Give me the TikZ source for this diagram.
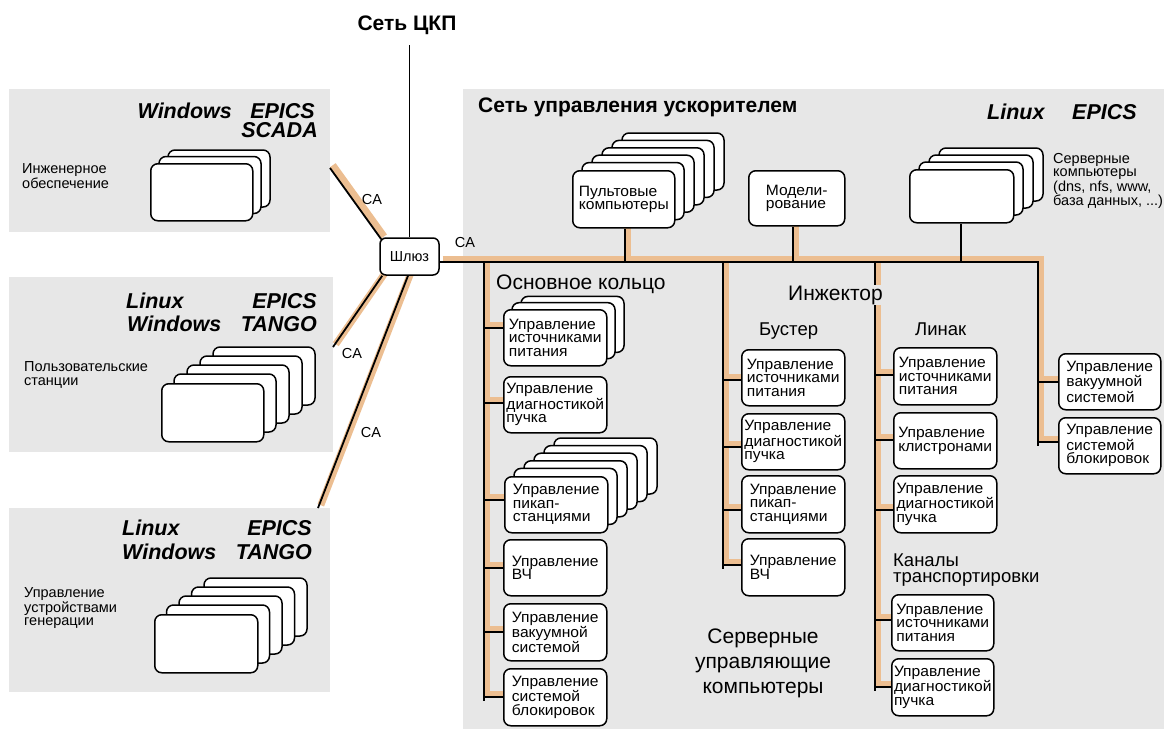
\documentclass[tikz,border=0pt]{standalone}
\usepackage{fontspec}
\setmainfont{Liberation Sans}
\newfontfamily\bxfam[FakeStretch=1.04]{Liberation Sans}
\usetikzlibrary{calc}
\definecolor{panelgray}{RGB}{231,231,231}
\definecolor{halocol}{RGB}{236,190,145}
\pgfdeclarelayer{panels}
\pgfdeclarelayer{halos}
\pgfsetlayers{panels,halos,main}
\newcommand\bxfont{\bxfam\fontsize{15}{13.5}\selectfont}
\newcommand\sidefont{\fontsize{14.5}{13.5}\selectfont}
\newcommand\ttlfont{\fontsize{21.5}{23}\selectfont\bfseries\itshape}
\newcommand\headfont{\fontsize{21}{25}\selectfont}
\newcommand\subfont{\fontsize{18.5}{16.5}\selectfont}
\newcommand\netline[1]{\begin{pgfonlayer}{halos}\begin{scope}[transform canvas={shift={(2.8pt,2.8pt)}}]\draw[halo] #1;\end{scope}\end{pgfonlayer}\draw[wire] #1;}
\newcommand\stk[9]{%
  \foreach \k in {#6,...,1}{\draw[boxline] ({#2+\k*#7},{#3-\k*#8}) rectangle ++(#4,#5);}
  \node[bx,minimum width=#4pt,minimum height=#5pt] (#1) at (#2,#3) {#9};}
\newcommand\bxn[6]{\node[bx,minimum width=#4pt,minimum height=#5pt] (#1) at (#2,#3) {#6};}
\begin{document}
\begin{tikzpicture}[x=1pt,y=-1pt,
  wire/.style={draw=black,line width=1.8pt},
  halo/.style={draw=halocol,line width=7pt},
  boxline/.style={draw=black,line width=1.5pt,fill=white,rounded corners=7pt},
  bx/.style={boxline,align=left,font=\bxfont,inner sep=0pt,anchor=north west},
  ttl/.style={font=\ttlfont,inner sep=0pt},
  side/.style={font=\sidefont,align=left,inner sep=0pt,anchor=north west},
  lbl/.style={font=\sidefont,inner sep=0pt},
  head/.style={font=\headfont,inner sep=0pt},
  sub/.style={font=\subfont,inner sep=0pt}]
\useasboundingbox (0,0) rectangle (1164,731);
% panels
\begin{pgfonlayer}{panels}
\fill[panelgray] (9,89) rectangle (330,232);
\fill[panelgray] (9,277) rectangle (333,452);
\fill[panelgray] (9,508) rectangle (330,692);
\fill[panelgray] (463,89) rectangle (1164,729);
\end{pgfonlayer}
% headings
\node[head,font=\headfont\bfseries] (ckp) at (407,25) {Сеть ЦКП};
\node[head,font=\headfont\bfseries,anchor=base west] (acc) at (478,112.5) {Сеть управления ускорителем};
% panel 1
\node[ttl,anchor=base east] (w1) at (232,118) {Windows};
\node[ttl,anchor=base east] (e1) at (315,118) {EPICS};
\node[ttl,anchor=base east] (sc1) at (318,137.5) {SCADA};
\node[side] (t1) at (22,163.5) {Инженерное\\обеспечение};
\stk{s1}{150}{163}{102}{57}{2}{9}{6.5}{}
% panel 2
\node[ttl,anchor=base west] (lx2) at (126,308) {Linux};
\node[ttl,anchor=base west] (w2) at (127,331) {Windows};
\node[ttl,anchor=base east] (e2) at (317,308) {EPICS};
\node[ttl,anchor=base east] (tg2) at (317,331) {TANGO};
\node[side] (t2) at (24,361.5) {Пользовательские\\станции};
\stk{s2}{161}{383}{102}{58}{4}{13}{9}{}
% panel 3
\node[ttl,anchor=base west] (lx3) at (122,535) {Linux};
\node[ttl,anchor=base west] (w3) at (122,559) {Windows};
\node[ttl,anchor=base east] (e3) at (312,535) {EPICS};
\node[ttl,anchor=base east] (tg3) at (312,559) {TANGO};
\node[side] (t3) at (24,587.5) {Управление\\устройствами\\генерации};
\stk{s3}{154}{614}{103}{58}{4}{12.5}{9}{}
% right panel header
\node[ttl,anchor=base west] (lx4) at (987,119) {Linux};
\node[ttl,anchor=base west] (e4) at (1072,119) {EPICS};
% top boxes
\stk{pult}{572}{170}{102}{57}{5}{10}{7.4}{Пультовые\\компьютеры}
\bxn{model}{748}{170}{96}{55}{Модели-\\рование}
\stk{serv}{909}{169}{104}{53}{3}{10}{7}{}
\node[side,font=\fontsize{14.5}{12.8}\selectfont] (servt) at (1053,153.5) {Серверные\\компьютеры\\(dns, nfs, www,\\база данных, ...)};
% gateway
\node[boxline,rounded corners=6pt,minimum width=59pt,minimum height=37pt,font=\sidefont,inner sep=0pt] (gw) at (409.5,256.5) {Шлюз};
% main ring
\node[head,anchor=base west] (ring) at (496,289) {Основное кольцо};
\stk{r1}{503}{309}{103}{56}{2}{9}{6.3}{Управление\\источниками\\питания}
\bxn{r2}{503}{376}{103}{56}{Управление\\диагностикой\\пучка}
\stk{r3}{504}{476}{103}{56}{5}{10}{7.6}{Управление\\пикап-\\станциями}
\bxn{r4}{503}{539}{103}{56}{Управление\\ВЧ}
\bxn{r5}{503}{603}{103}{57}{Управление\\вакуумной\\системой}
\bxn{r6}{503}{668}{103}{57}{Управление\\системой\\блокировок}
% booster
\node[sub,anchor=base west] (bust) at (759,335) {Бустер};
\bxn{b1}{741}{349}{103}{56}{Управление\\источниками\\питания}
\bxn{b2}{741}{413}{103}{56}{Управление\\диагностикой\\пучка}
\bxn{b3}{741}{475}{103}{57}{Управление\\пикап-\\станциями}
\bxn{b4}{741}{538}{103}{57}{Управление\\ВЧ}
% linac
\node[sub,anchor=base west] (lin) at (915,335) {Линак};
\bxn{l1}{893}{347}{103}{57}{Управление\\источниками\\питания}
\bxn{l2}{893}{412}{103}{56}{Управление\\клистронами}
\bxn{l3}{893}{475}{103}{57}{Управление\\диагностикой\\пучка}
\node[sub,align=left,anchor=north west] (chan) at (893,553.5) {Каналы\\транспортировки};
\bxn{c1}{891}{594}{102}{56}{Управление\\источниками\\питания}
\bxn{c2}{891}{658}{102}{57}{Управление\\диагностикой\\пучка}
% right column
\bxn{q1}{1058}{353}{102}{56}{Управление\\вакуумной\\системой}
\bxn{q2}{1058}{417}{102}{56}{Управление\\системой\\блокировок}
\node[head,align=center,anchor=north] (scc) at (763,628.5) {Серверные\\управляющие\\компьютеры};
% network coordinates
\coordinate (ckpl) at (409.5,45);
\coordinate (p1) at (330,168);
\coordinate (p2) at (333,347);
\coordinate (p3) at (318,508);
\coordinate (busL) at (gw.east |- 0,262);
\coordinate (busR) at (1038,262);
\coordinate (v4b) at (1038,446);
\coordinate (v1t) at (484,262); \coordinate (v1b) at (484,701);
\coordinate (v2t) at (723,262); \coordinate (v2b) at (723,569);
\coordinate (v3t) at (875,262); \coordinate (v3b) at (875,691);
\coordinate (pu) at (625,262);
\coordinate (mo) at (793,262);
\coordinate (se) at (961,262);
% thin lines
\draw[wire] (ckpl) -- (ckpl |- gw.north);
\draw[wire] (se) -- (se |- serv.south);
% network
\netline{([shift={(2,2)}]gw.north west) -- (p1)}
\netline{([xshift=3pt]gw.south west) -- (p2)}
\netline{([xshift=-1.5pt]gw.south) -- (p3)}
\netline{(busL) -- (busR) -- (v4b)}
\netline{(v1t) -- (v1b)}
\netline{(v2t) -- (v2b)}
\netline{(v3t) -- (v3b)}
\netline{(pu) -- (pu |- pult.south)}
\netline{(mo) -- (mo |- model.south)}
% stubs
\foreach \n/\y in {r1/328,r2/403,r3/500,r4/568,r5/632,r6/697}{
  \coordinate (st) at (484,\y);
  \netline{(st) -- (st -| \n.west)}}
\foreach \n/\y in {b1/380,b2/447,b3/510,b4/565}{
  \coordinate (st) at (723,\y);
  \netline{(st) -- (st -| \n.west)}}
\foreach \n/\y in {l1/375,l2/440,l3/510,c1/620,c2/687}{
  \coordinate (st) at (875,\y);
  \netline{(st) -- (st -| \n.west)}}
\foreach \n/\y in {q1/382,q2/442}{
  \coordinate (st) at (1038,\y);
  \netline{(st) -- (st -| \n.west)}}
\node[head,anchor=base west,fill=panelgray,inner sep=1pt] (inj) at (787,300) {Инжектор};
% CA labels
\node[lbl] (ca1) at (372,200) {CA};
\node[lbl] (ca2) at (352,354) {CA};
\node[lbl] (ca3) at (371,433) {CA};
\node[lbl] (ca4) at (465,243) {CA};
\end{tikzpicture}
\end{document}
